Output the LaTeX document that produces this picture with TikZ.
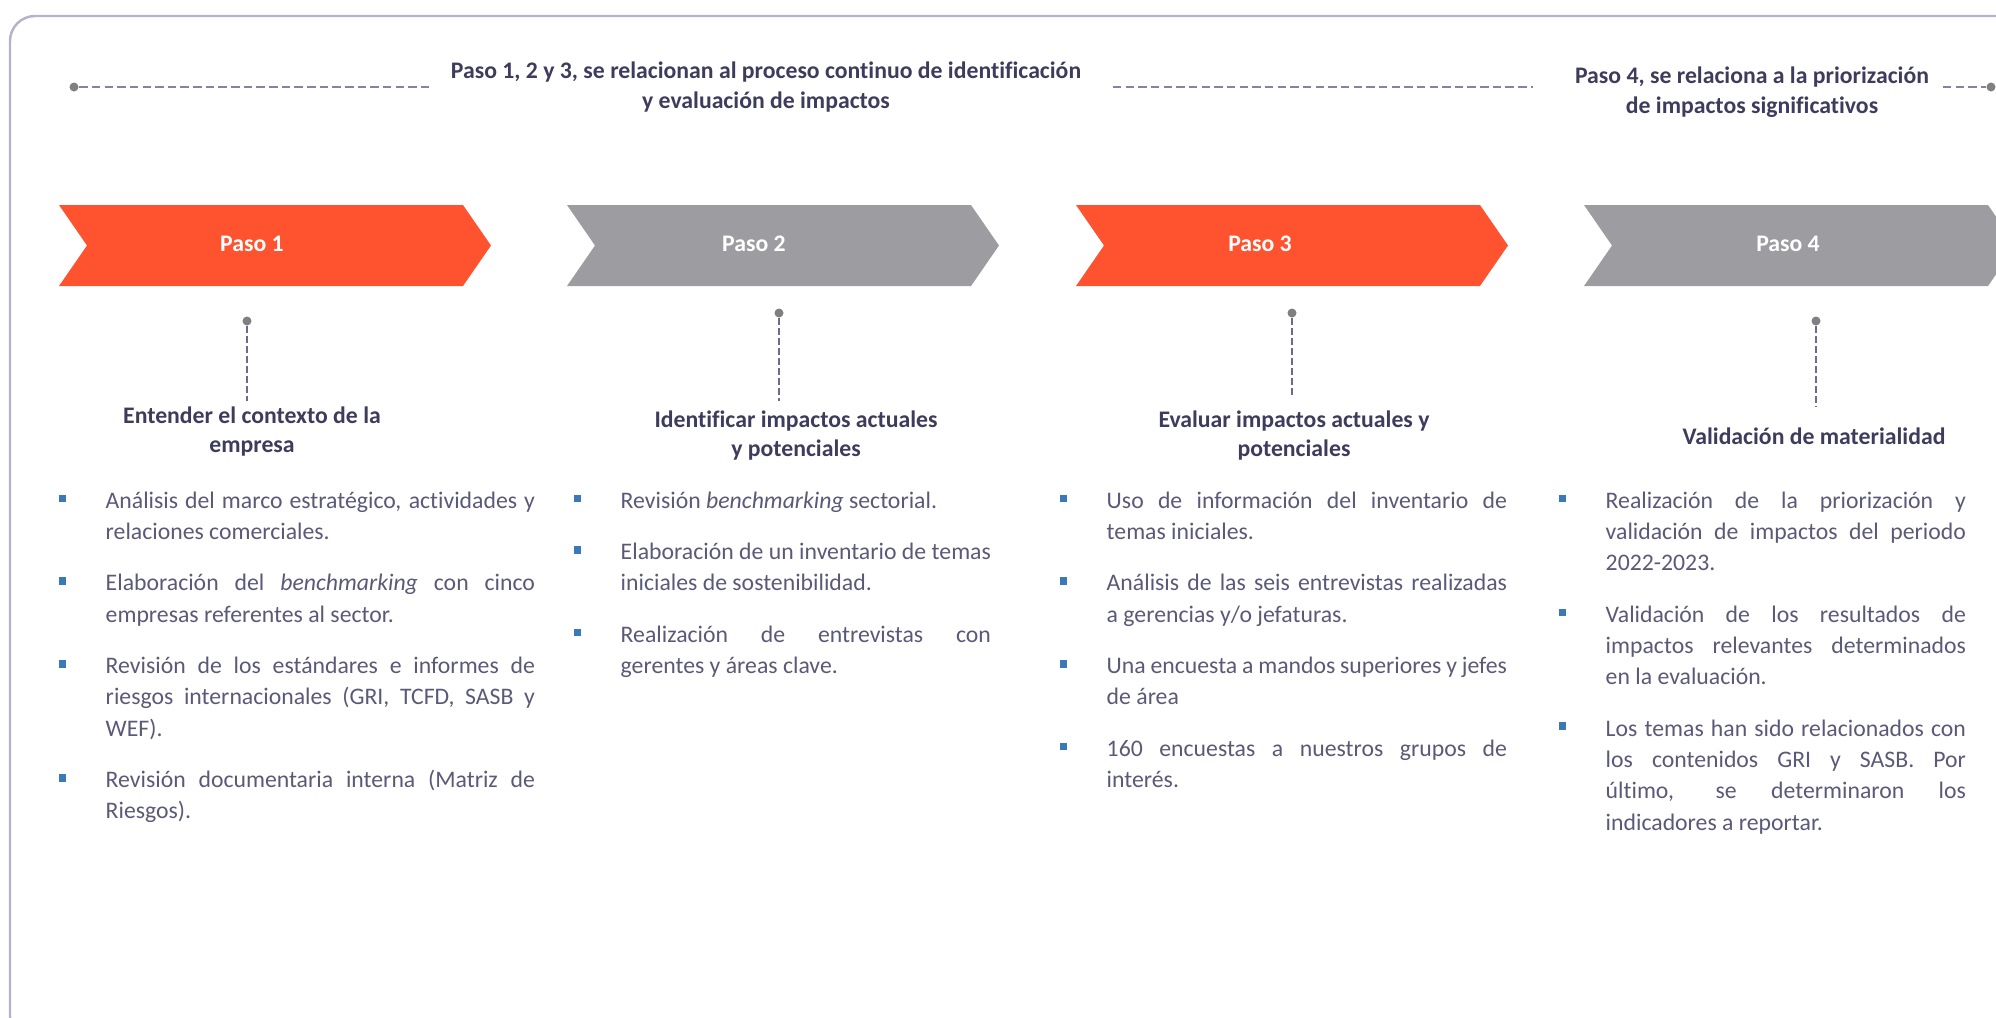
\documentclass[tikz,border=0pt]{standalone}
\usepackage{fontspec}
\setmainfont{Carlito}[Ligatures=NoCommon]
\usepackage{enumitem}
\usetikzlibrary{positioning}

\definecolor{naranja}{HTML}{FF5330}
\definecolor{plomo}{HTML}{9D9CA1}
\definecolor{tinta}{HTML}{3D3C5C}
\definecolor{texto}{HTML}{5A5977}
\definecolor{azul}{HTML}{3A78B8}
\definecolor{guion}{HTML}{6D6A8F}
\definecolor{guionclaro}{HTML}{8583A3}
\definecolor{borde}{HTML}{B5B3C9}
\definecolor{punto}{HTML}{808080}

\newcommand{\vineta}{\textcolor{azul}{\rule[1.7pt]{2pt}{2.2pt}}}
\setlist[itemize]{label=\vineta, labelwidth=2pt, labelsep=0.395cm, leftmargin=0.465cm,
    itemsep=5.7pt, parsep=0pt, topsep=0pt, partopsep=0pt}

\begin{document}
\begin{tikzpicture}[
        x=0.01cm, y=-0.01cm,
        encabezado/.style={font=\fontsize{6.75}{8.5}\selectfont\bfseries, text=tinta, align=center, inner sep=0pt, anchor=base},
        paso/.style={font=\fontsize{6.75}{8}\selectfont\bfseries, text=white, inner sep=0pt, anchor=base},
        titulo/.style={font=\fontsize{6.75}{8.25}\selectfont\bfseries, text=tinta, align=center, inner sep=0pt, anchor=base},
        lista/.style={font=\fontsize{6.75}{8.9}\selectfont, text=texto, align=justify, inner sep=0pt, anchor=base west},
        hito/.style={circle, fill=punto, inner sep=0pt, minimum size=0.09cm},
        enlace/.style={draw=guion, line width=0.6pt, dash pattern=on 1.9pt off 0.95pt},
        tramo/.style={draw=guionclaro, line width=0.6pt, dash pattern=on 2.4pt off 1.2pt}
    ]
    \useasboundingbox (0,0) rectangle (1996,1017);
    \clip (0,0) rectangle (1996,1017);
    \draw[borde, line width=0.7pt, rounded corners=0.25cm] (10,16) rectangle (2100,1042);

    % cabecera
    \node[encabezado] (grupo1) at (766,108) {Paso 1, 2 y 3, se relacionan al proceso continuo de identificación\\y evaluación de impactos};
    \node[encabezado] (grupo2) at (1752,113) {Paso 4, se relaciona a la priorización\\de impactos significativos};
    \node[hito] (ini) at (74,87) {};
    \node[hito] (fin) at (1991,87) {};
    \coordinate (t1) at (429,87);
    \coordinate (t2a) at (1113,87);
    \coordinate (t2b) at (1533,87);
    \coordinate (t3) at (1943,87);
    \draw[tramo] (ini) -- (t1);
    \draw[tramo] (t2a) -- (t2b);
    \draw[tramo] (t3) -- (fin);

    % flechas de pasos
    \foreach \L/\tono/\x/\n in {59/naranja/252/1, 567/plomo/754/2, 1076/naranja/1260/3, 1584/plomo/1788/4}{
        \fill[\tono] (\L,205) -- (\L+404,205) -- (\L+432,245.5) -- (\L+404,286) -- (\L,286) -- (\L+28,245.5) -- cycle;
        \node[paso] (paso\n) at (\x,251) {Paso \n};
    }

    % hitos y titulos
    \node[hito] (d1) at (247,321) {};
    \node[hito] (d2) at (779,313) {};
    \node[hito] (d3) at (1292,313) {};
    \node[hito] (d4) at (1816,321) {};
    \coordinate (f1) at (247,401);
    \coordinate (f2) at (779,401);
    \coordinate (f3) at (1292,397);
    \coordinate (f4) at (1816,407);
    \draw[enlace] (d1) -- (f1);
    \draw[enlace] (d2) -- (f2);
    \draw[enlace] (d3) -- (f3);
    \draw[enlace] (d4) -- (f4);

    \node[titulo] (tit1) at (252,452) {Entender el contexto de la\\empresa};
    \node[titulo] (tit2) at (796,456) {Identificar impactos actuales\\y potenciales};
    \node[titulo] (tit3) at (1294,456) {Evaluar impactos actuales y\\potenciales};
    \node[titulo] (tit4) at (1814,444) {Validación de materialidad};

    % listas
    \node[lista, text width=4.755cm] (lista1) at (58.5,477) {%
        \begin{itemize}
            \item Análisis del marco estratégico, actividades y\linebreak relaciones comerciales.
            \item Elaboración del \emph{benchmarking} con cinco\linebreak empresas referentes al sector.
            \item Revisión de los estándares e informes de\linebreak riesgos internacionales (GRI, TCFD, SASB y\linebreak WEF).
            \item Revisión documentaria interna (Matriz de\linebreak Riesgos).
        \end{itemize}};
    \node[lista, text width=4.165cm] (lista2) at (573.5,477) {%
        \begin{itemize}
            \item Revisión \emph{benchmarking} sectorial.
            \item Elaboración de un inventario de temas\linebreak iniciales de sostenibilidad.
            \item Realización de entrevistas con\linebreak gerentes y áreas clave.
        \end{itemize}};
    \node[lista, text width=4.465cm] (lista3) at (1059.5,477) {%
        \begin{itemize}
            \item Uso de información del inventario de\linebreak temas iniciales.
            \item Análisis de las seis entrevistas realizadas\linebreak a gerencias y/o jefaturas.
            \item Una encuesta a mandos superiores y jefes\linebreak de área
            \item 160 encuestas a nuestros grupos de\linebreak interés.
        \end{itemize}};
    \node[lista, text width=4.065cm] (lista4) at (1558.5,477) {%
        \begin{itemize}
            \item Realización de la priorización y\linebreak validación de impactos del periodo\linebreak 2022-2023.
            \item Validación de los resultados de\linebreak impactos relevantes determinados\linebreak en la evaluación.
            \item Los temas han sido relacionados con\linebreak los contenidos GRI y SASB. Por\linebreak último, se determinaron los\linebreak indicadores a reportar.
        \end{itemize}};
\end{tikzpicture}
\end{document}
